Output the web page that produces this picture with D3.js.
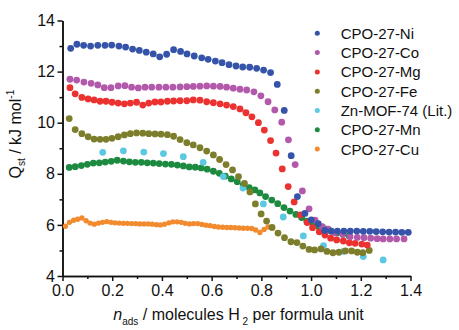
<!DOCTYPE html>
<html>
<head>
<meta charset="utf-8">
<script src="https://cdn.jsdelivr.net/npm/d3@7"></script>
<style>
  html, body { margin: 0; padding: 0; background: #fff; }
  svg { display: block; font-family: "Liberation Sans", Arial, sans-serif; }
</style>
</head>
<body>
<svg id="chart" width="459" height="330"></svg>
<script>
// Isosteric heat of H2 adsorption vs. loading, [n_ads, Q_st] pairs per framework
const ni = [[0.033,12.91],[0.058,13.07],[0.085,13.03],[0.113,13.00],[0.142,13.03],[0.171,13.03],[0.198,13.04],[0.227,13.00],[0.254,12.96],[0.282,12.88],[0.309,12.83],[0.337,12.76],[0.365,12.69],[0.391,12.58],[0.419,12.68],[0.447,12.86],[0.475,12.79],[0.501,12.69],[0.530,12.61],[0.560,12.54],[0.586,12.48],[0.615,12.41],[0.642,12.35],[0.670,12.27],[0.698,12.22],[0.725,12.18],[0.753,12.17],[0.781,12.13],[0.809,12.06],[0.837,11.96],[0.864,11.50],[0.892,10.48],[0.920,8.71],[0.945,7.11],[0.975,6.45],[1.001,6.20],[1.029,6.05],[1.055,5.78],[1.081,5.76],[1.106,5.76],[1.132,5.76],[1.158,5.76],[1.184,5.76],[1.210,5.75],[1.236,5.75],[1.262,5.74],[1.288,5.73],[1.314,5.72],[1.340,5.72],[1.365,5.71],[1.391,5.71]];
const co = [[0.030,11.70],[0.057,11.67],[0.086,11.59],[0.115,11.54],[0.142,11.48],[0.168,11.37],[0.195,11.37],[0.224,11.44],[0.251,11.45],[0.278,11.39],[0.305,11.36],[0.332,11.39],[0.359,11.39],[0.388,11.39],[0.416,11.39],[0.444,11.39],[0.473,11.40],[0.500,11.41],[0.526,11.42],[0.553,11.43],[0.580,11.44],[0.607,11.43],[0.634,11.42],[0.660,11.39],[0.687,11.35],[0.714,11.31],[0.741,11.28],[0.770,11.21],[0.798,11.05],[0.827,10.82],[0.854,10.50],[0.882,10.02],[0.909,9.33],[0.936,8.36],[0.965,7.33],[0.992,6.63],[1.016,6.19],[1.045,5.93],[1.069,5.83],[1.096,5.69],[1.127,5.63],[1.157,5.54],[1.186,5.51],[1.213,5.50],[1.240,5.48],[1.266,5.46],[1.290,5.45],[1.317,5.45],[1.344,5.45],[1.374,5.45]];
const mg = [[0.030,11.37],[0.051,11.13],[0.078,10.99],[0.103,10.93],[0.127,10.89],[0.151,10.84],[0.175,10.84],[0.199,10.80],[0.224,10.77],[0.249,10.74],[0.273,10.77],[0.298,10.80],[0.323,10.69],[0.347,10.77],[0.372,10.81],[0.396,10.81],[0.422,10.84],[0.447,10.85],[0.473,10.86],[0.500,10.86],[0.526,10.89],[0.553,10.88],[0.580,10.82],[0.607,10.78],[0.634,10.74],[0.660,10.69],[0.687,10.63],[0.714,10.54],[0.738,10.39],[0.762,10.23],[0.788,10.00],[0.812,9.71],[0.837,9.30],[0.859,8.81],[0.884,8.19],[0.908,7.50],[0.932,6.90],[0.957,6.39],[0.984,6.09],[1.006,5.89],[1.033,5.73],[1.056,5.60],[1.079,5.48],[1.103,5.41],[1.130,5.37],[1.154,5.30],[1.177,5.28],[1.204,5.25],[1.226,5.21]];
const fe = [[0.027,10.16],[0.051,9.73],[0.078,9.57],[0.103,9.45],[0.127,9.36],[0.151,9.35],[0.175,9.35],[0.199,9.39],[0.224,9.45],[0.249,9.52],[0.273,9.57],[0.298,9.60],[0.323,9.59],[0.347,9.57],[0.372,9.56],[0.396,9.55],[0.422,9.53],[0.447,9.47],[0.473,9.34],[0.500,9.22],[0.526,9.13],[0.553,9.02],[0.580,8.89],[0.607,8.74],[0.632,8.56],[0.658,8.36],[0.684,8.15],[0.708,7.89],[0.732,7.62],[0.754,7.29],[0.776,6.82],[0.799,6.43],[0.821,6.15],[0.843,5.90],[0.867,5.68],[0.893,5.50],[0.919,5.34],[0.943,5.31],[0.967,5.17],[0.992,5.04],[1.014,5.02],[1.040,5.06],[1.064,4.96],[1.088,4.91],[1.112,4.93],[1.138,4.98],[1.163,4.98],[1.186,4.93],[1.208,4.91],[1.234,5.00]];
const zn = [[0.162,8.84],[0.245,8.90],[0.327,8.85],[0.406,8.79],[0.486,8.67],[0.566,8.45],[0.647,7.89],[0.726,7.44],[0.808,6.82],[0.888,6.31],[0.969,5.57],[1.050,5.19],[1.130,4.96],[1.210,4.76],[1.290,4.63]];
const mn = [[0.027,8.25],[0.051,8.28],[0.076,8.32],[0.100,8.37],[0.124,8.42],[0.148,8.43],[0.172,8.46],[0.196,8.49],[0.220,8.53],[0.245,8.50],[0.269,8.47],[0.293,8.45],[0.317,8.45],[0.341,8.43],[0.365,8.42],[0.389,8.40],[0.414,8.38],[0.438,8.37],[0.462,8.34],[0.486,8.31],[0.510,8.27],[0.534,8.26],[0.558,8.23],[0.582,8.18],[0.607,8.10],[0.631,8.02],[0.655,7.91],[0.679,7.80],[0.703,7.69],[0.727,7.56],[0.751,7.46],[0.774,7.37],[0.794,7.25],[0.817,7.11],[0.842,6.97],[0.866,6.83],[0.891,6.68],[0.915,6.54],[0.939,6.41],[0.962,6.29],[0.983,6.15],[1.008,6.02],[1.032,5.92],[1.056,5.84],[1.080,5.76],[1.104,5.68],[1.128,5.63],[1.153,5.57]];
const cu = [[0.012,5.95],[0.028,6.10],[0.045,6.18],[0.061,6.22],[0.078,6.27],[0.095,6.16],[0.111,6.07],[0.128,6.03],[0.145,6.07],[0.161,6.10],[0.178,6.13],[0.195,6.10],[0.211,6.08],[0.228,6.07],[0.245,6.06],[0.261,6.06],[0.278,6.05],[0.295,6.05],[0.311,6.04],[0.328,6.04],[0.345,6.04],[0.361,6.03],[0.378,6.01],[0.394,6.00],[0.411,6.03],[0.428,6.08],[0.444,6.12],[0.461,6.12],[0.478,6.10],[0.494,6.06],[0.511,6.04],[0.527,6.05],[0.544,6.05],[0.561,6.02],[0.577,5.99],[0.594,5.97],[0.611,5.94],[0.627,5.92],[0.644,5.91],[0.661,5.90],[0.677,5.90],[0.694,5.89],[0.711,5.88],[0.727,5.87],[0.744,5.87],[0.761,5.86],[0.777,5.80],[0.794,5.70],[0.811,5.82],[0.827,5.92],[0.844,5.88]];

const seriesNames = ["CPO-27-Ni", "CPO-27-Co", "CPO-27-Mg", "CPO-27-Fe", "Zn-MOF-74 (Lit.)", "CPO-27-Mn", "CPO-27-Cu"];
const seriesData = [ni, co, mg, fe, zn, mn, cu];
const seriesColors = ["#3553a8", "#b259ab", "#ec3131", "#7d7e2c", "#5cc8e2", "#1c8a3f", "#f28a2e"];

const xMajorTicks = [0, 0.2, 0.4, 0.6, 0.8, 1.0, 1.2, 1.4];
const xMinorTicks = [0.1, 0.3, 0.5, 0.7, 0.9, 1.1, 1.3];
const yMajorTicks = [4, 6, 8, 10, 12, 14];
const yMinorTicks = [5, 7, 9, 11, 13];

const svg = d3.select("#chart");
const x = d3.scaleLinear().domain([0, 1.4]).range([62.5, 410.5]);
const y = d3.scaleLinear().domain([4, 14]).range([276, 20.5]);

// axes
const axisStyle = g => {
  g.selectAll("path, line").attr("stroke", "#111").attr("stroke-width", 1.5);
  g.selectAll("text").attr("fill", "#111").attr("font-size", 16)
    .attr("font-family", "'Liberation Sans', Arial, sans-serif");
};
svg.append("g").attr("transform", `translate(0,${y(4)})`)
  .call(d3.axisBottom(x).tickValues(xMinorTicks).tickSize(3).tickSizeOuter(0).tickFormat(""))
  .call(axisStyle);
svg.append("g").attr("transform", `translate(0,${y(4)})`)
  .call(d3.axisBottom(x).tickValues(xMajorTicks).tickSize(5).tickSizeOuter(0).tickPadding(4).tickFormat(d3.format(".1f")))
  .call(axisStyle);
svg.append("g").attr("transform", `translate(${x(0)},0)`)
  .call(d3.axisLeft(y).tickValues(yMinorTicks).tickSize(3).tickSizeOuter(0).tickFormat(""))
  .call(axisStyle);
svg.append("g").attr("transform", `translate(${x(0)},0)`)
  .call(d3.axisLeft(y).tickValues(yMajorTicks).tickSize(5).tickSizeOuter(0).tickPadding(2.5).tickFormat(d3.format("d")))
  .call(axisStyle);

// scatter series, last legend entry drawn first
const plot = svg.append("g");
for (let i = seriesData.length - 1; i >= 0; i--) {
  const r = seriesNames[i] === "CPO-27-Cu" ? 2.7 : 3.4;
  plot.append("g").selectAll("circle").data(seriesData[i]).join("circle")
    .attr("cx", d => x(d[0])).attr("cy", d => y(d[1]))
    .attr("r", r).attr("fill", seriesColors[i]);
}

// legend
const legend = svg.append("g").attr("transform", "translate(317.3,33.3)");
seriesNames.forEach((name, i) => {
  const row = legend.append("g").attr("transform", `translate(0,${i * 19.3})`);
  row.append("circle").attr("r", 2.5).attr("fill", seriesColors[i]);
  row.append("text").attr("x", 23.4).attr("dy", "0.36em").attr("font-size", 15)
    .attr("fill", "#111").text(name);
});

// axis titles
const xt = svg.append("text").attr("x", x(0.7) + 2).attr("y", 320)
  .attr("text-anchor", "middle").attr("font-size", 16).attr("fill", "#111");
xt.append("tspan").attr("font-style", "italic").text("n");
xt.append("tspan").attr("font-size", 10).attr("dy", 5).text("ads");
xt.append("tspan").attr("dy", -5).text(" / molecules H");
xt.append("tspan").attr("font-size", 10).attr("dy", 5).text(" 2");
xt.append("tspan").attr("dy", -5).text(" per formula unit");

const yt = svg.append("text").attr("transform", "translate(21,178.5) rotate(-90)")
  .attr("text-anchor", "start").attr("font-size", 16).attr("fill", "#111");
yt.append("tspan").text("Q");
yt.append("tspan").attr("font-size", 10).attr("dy", 4).text("st");
yt.append("tspan").attr("dy", -4).text(" / kJ mol");
yt.append("tspan").attr("font-size", 10).attr("dy", -7).text("-1");
</script>
</body>
</html>
